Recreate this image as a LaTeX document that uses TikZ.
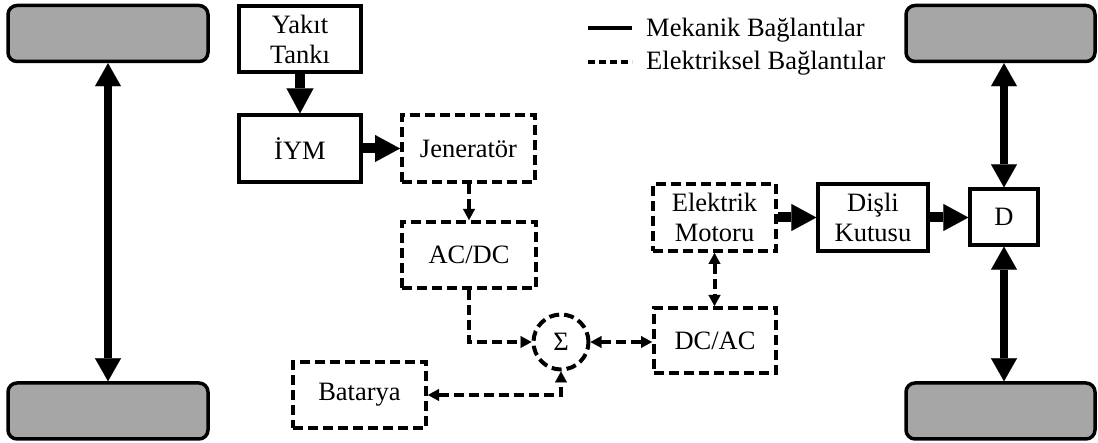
\documentclass[tikz,border=0pt]{standalone}
\usepackage{fontspec}
\setmainfont{Liberation Serif}
\usetikzlibrary{arrows.meta}
\begin{document}
\begin{tikzpicture}[x=1pt,y=-1pt,
  every node/.style={font=\fontsize{26.5}{30}\selectfont, inner sep=0pt, align=center},
  mech/.style={draw, line width=3.3pt, rectangle},
  elec/.style={draw, line width=4pt, dash pattern=on 10pt off 5pt, rectangle},
  wheel/.style={draw, line width=3.5pt, fill=black!35, rounded corners=9pt,
    minimum width=200pt, minimum height=56pt},
  mlink/.style={line width=10pt, -{Triangle[length=25pt,width=27pt,line width=0.1pt]}},
  axle/.style={line width=7.5pt, {Triangle[length=23pt,width=26pt,line width=0.1pt]}-{Triangle[length=23pt,width=26pt,line width=0.1pt]}},
  etip/.style={Triangle[length=11pt,width=12pt,line width=0.1pt]},
  elink/.style={line width=4pt, dash pattern=on 10pt off 5pt, -{Triangle[length=11pt,width=12pt,line width=0.1pt]}},
  eboth/.style={line width=4pt, dash pattern=on 10pt off 5pt, {Triangle[length=11pt,width=12pt,line width=0.1pt]}-{Triangle[length=11pt,width=12pt,line width=0.1pt]}}
]
\useasboundingbox (0,0) rectangle (1098,443);

% wheels
\node[wheel] (wtl) at (108,33.5) {};
\node[wheel] (wbl) at (108,411) {};
\node[wheel, minimum width=189pt] (wtr) at (1000.5,33.5) {};
\node[wheel, minimum width=189pt] (wbr) at (1000.5,411) {};

% blocks
\node[mech, minimum width=122pt, minimum height=66pt] (tank) at (300,39) {Yakıt\\Tankı};
\node[mech, minimum width=122pt, minimum height=67pt] (iym) at (300,148.5) {İYM};
\node[elec, minimum width=133pt, minimum height=67pt] (gen) at (468.5,148.5) {Jeneratör};
\node[elec, minimum width=134pt, minimum height=66pt] (acdc) at (469,255) {AC/DC};
\node[elec, minimum width=133pt, minimum height=66pt] (bat) at (359.5,395) {Batarya};
\node[elec, minimum width=122pt, minimum height=65pt] (dcac) at (715,340.5) {DC/AC};
\node[elec, minimum width=123pt, minimum height=67pt] (mot) at (714.5,217.5) {Elektrik\\Motoru};
\node[mech, minimum width=110pt, minimum height=67pt] (gear) at (873,217.5) {Dişli\\Kutusu};
\node[mech, minimum width=68pt, minimum height=56pt] (diff) at (1004,217) {D};
\node[draw, circle, line width=4pt, dash pattern=on 10pt off 5pt, minimum size=55pt] (sum) at (561,342) {Σ};

% legend
\coordinate (l1a) at (588,28); \coordinate (l1b) at (632,28);
\coordinate (l2a) at (588,62); \coordinate (l2b) at (632,62);
\draw[line width=4.5pt] (l1a) -- (l1b);
\draw[line width=4pt, dash pattern=on 7pt off 4pt] (l2a) -- (l2b);
\node[anchor=west] (lg1) at (646,30) {Mekanik Bağlantılar};
\node[anchor=west] (lg2) at (646,63) {Elektriksel Bağlantılar};

% mechanical links
\draw[axle] (wtl.south) -- (wbl.north);
\draw[mlink] (tank.south) -- (iym.north);
\draw[mlink] (iym.east) -- (gen.west);
\draw[mlink] (mot.east) -- (gear.west);
\draw[mlink] (gear.east) -- (gear.east -| diff.west);
\draw[axle] (diff.north) -- (diff.north |- wtr.south);
\draw[axle] (diff.south) -- (diff.south |- wbr.north);

% electrical links
\draw[elink] (gen.south -| acdc.north) -- (acdc.north);
\draw[elink] (acdc.south) |- (sum.west);
\draw[eboth] (sum.east) -- (sum.east -| dcac.west);
\draw[eboth] (mot.south) -- (mot.south |- dcac.north);
\draw[eboth] (bat.east) -| (sum.south);
\end{tikzpicture}
\end{document}
